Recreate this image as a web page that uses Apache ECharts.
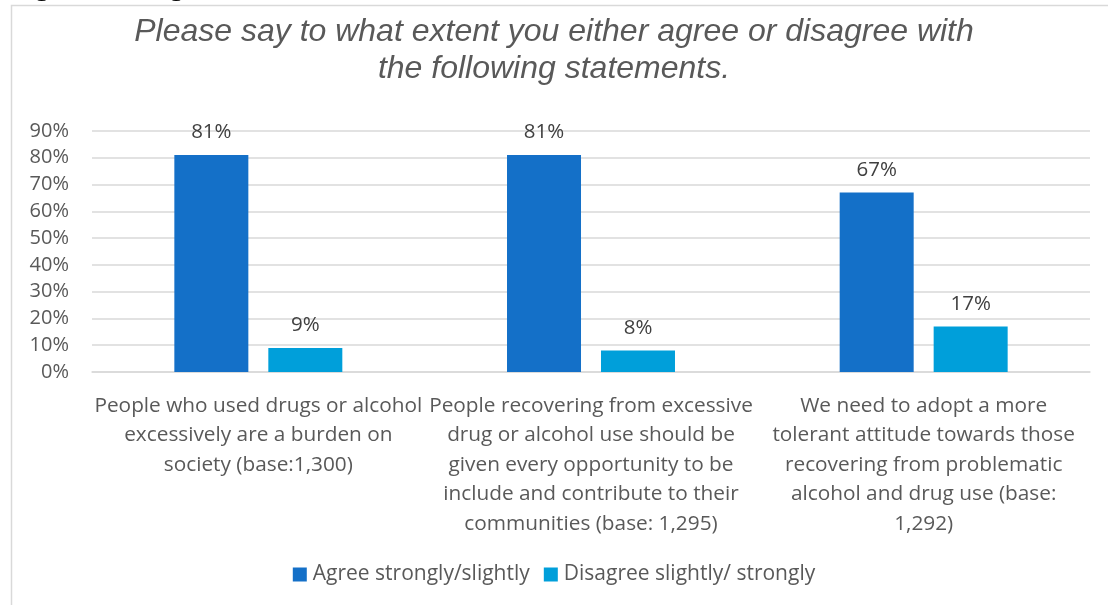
<!DOCTYPE html>
<html>
<head>
<meta charset="utf-8">
<script src="https://cdn.jsdelivr.net/npm/echarts@6/dist/echarts.min.js"></script>
<style>
  html, body { margin: 0; padding: 0; background: #ffffff; }
  #chart { width: 1108px; height: 605px; }
</style>
</head>
<body>
<div id="chart"></div>
<script>
// Survey statements (x-axis categories)
const categories = [
  'People who used drugs or alcohol\nexcessively are a burden on\nsociety (base:1,300)',
  'People recovering from excessive\ndrug or alcohol use should be\ngiven every opportunity to be\ninclude and contribute to their\ncommunities (base: 1,295)',
  'We need to adopt a more\ntolerant attitude towards those\nrecovering from problematic\nalcohol and drug use (base:\n1,292)'
];
// Share of respondents (%)
const agreeValues = [81, 81, 67];
const disagreeValues = [9, 8, 17];
const seriesNames = ['Agree strongly/slightly', 'Disagree slightly/ strongly'];
const titleText = 'Please say to what extent you either agree or disagree with\nthe following statements.';
const headingText = 'Figure 8: Agreement with statements';

const chart = echarts.init(document.getElementById('chart'), null, { renderer: 'canvas' });

const labelFont = '"Open Sans", "Noto Sans", sans-serif';

chart.setOption({
  animation: false,
  backgroundColor: '#ffffff',
  graphic: [
    {
      type: 'text', left: 5, top: -30, silent: true,
      style: { text: headingText, font: 'bold 31px "Liberation Sans", Arial, sans-serif', fill: '#000000' }
    },
    {
      type: 'rect', silent: true, z: -1,
      shape: { x: 11.5, y: 5.5, width: 1200, height: 700 },
      style: { fill: '#ffffff', stroke: '#d9d9d9', lineWidth: 1.5 }
    }
  ],
  title: {
    text: titleText,
    left: 'center',
    top: 9,
    padding: [5, 0, 5, 12],
    textStyle: {
      fontFamily: '"Liberation Sans", Arial, sans-serif',
      fontStyle: 'italic',
      fontWeight: 'normal',
      fontSize: 32,
      lineHeight: 37,
      color: '#595959'
    }
  },
  legend: {
    data: seriesNames,
    bottom: 15,
    left: 'center',
    itemWidth: 14,
    itemHeight: 14,
    itemGap: 14,
    icon: 'rect',
    textStyle: { fontFamily: labelFont, fontSize: 21, color: '#595959', padding: [0, 0, 0, 1] }
  },
  grid: { left: 92, right: 18, top: 131, bottom: 233, containLabel: false },
  xAxis: {
    type: 'category',
    data: categories,
    axisTick: { show: false },
    axisLine: { lineStyle: { color: '#d9d9d9', width: 1.5 } },
    axisLabel: {
      interval: 0,
      margin: 19,
      fontFamily: labelFont,
      fontSize: 20.8,
      lineHeight: 29.5,
      color: '#595959',
      align: 'center'
    }
  },
  yAxis: {
    type: 'value',
    min: 0,
    max: 90,
    interval: 10,
    axisLine: { show: false },
    axisTick: { show: false },
    splitLine: { lineStyle: { color: '#d9d9d9', width: 1.5 } },
    axisLabel: {
      formatter: '{value}%',
      margin: 23,
      fontFamily: labelFont,
      fontSize: 20,
      color: '#595959'
    }
  },
  series: [
    {
      name: seriesNames[0],
      type: 'bar',
      data: agreeValues,
      barWidth: 74,
      barGap: '27%',
      itemStyle: { color: '#1470c8' },
      label: {
        show: true, position: 'top', distance: 12, formatter: '{c}%',
        fontFamily: labelFont, fontSize: 20.5, color: '#404040'
      }
    },
    {
      name: seriesNames[1],
      type: 'bar',
      data: disagreeValues,
      barWidth: 74,
      barGap: '27%',
      itemStyle: { color: '#009fda' },
      label: {
        show: true, position: 'top', distance: 12, formatter: '{c}%',
        fontFamily: labelFont, fontSize: 20.5, color: '#404040'
      }
    }
  ]
});
</script>
</body>
</html>
